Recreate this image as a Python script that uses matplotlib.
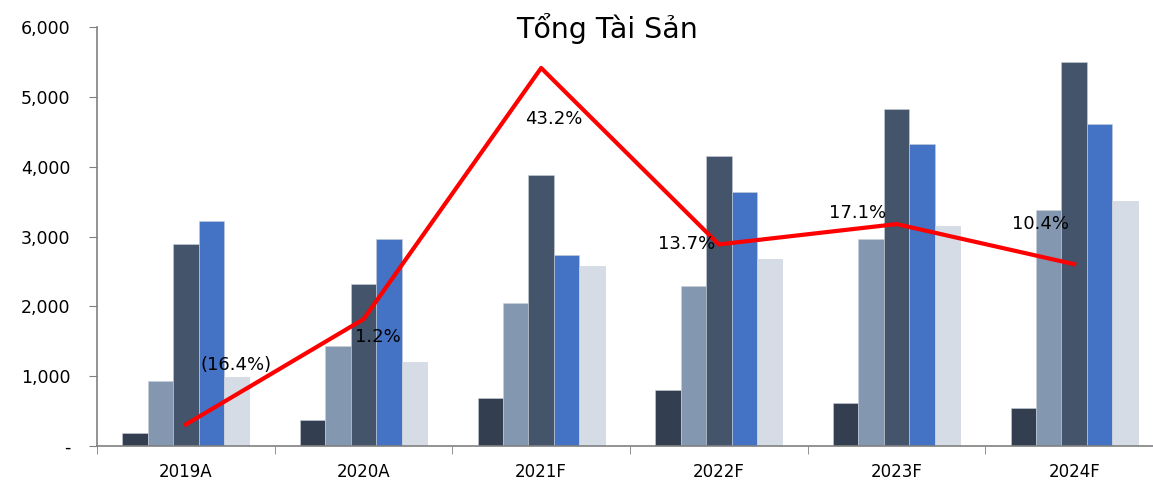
import matplotlib.pyplot as plt
import numpy as np
from matplotlib.ticker import FuncFormatter

years = ['2019A', '2020A', '2021F', '2022F', '2023F', '2024F']
s1 = [182, 372, 683, 802, 611, 540]
s2 = [936, 1437, 2044, 2297, 2961, 3386]
s3 = [2890, 2321, 3878, 4155, 4824, 5501]
s4 = [3224, 2961, 2741, 3634, 4331, 4609]
s5 = [984, 1208, 2579, 2684, 3152, 3506]
growth = [-16.4, 1.2, 43.2, 13.7, 17.1, 10.4]
growth_labels = ['(16.4%)', '1.2%', '43.2%', '13.7%', '17.1%', '10.4%']

colors = ['#333F50', '#8497B0', '#44546A', '#4472C4', '#D6DCE5']

fig = plt.figure(figsize=(11.53, 4.82), dpi=100)
ax = fig.add_axes([97 / 1153, 36 / 482, (1163 - 97) / 1153, (446 - 27.3) / 482])

x = np.arange(len(years))
width = 0.143
for i, s in enumerate([s1, s2, s3, s4, s5]):
    ax.bar(x + (i - 2) * width, s, width, color=colors[i], edgecolor='#c8cfd8', linewidth=0.4, zorder=2)

ax.set_xlim(-0.5, len(years) - 0.5)
ax.set_ylim(0, 6000)
ax.set_yticks(np.arange(0, 6001, 1000))
ax.yaxis.set_major_formatter(FuncFormatter(lambda v, p: '-' if v == 0 else f'{int(v):,}'))
ax.set_xticks(x)
ax.set_xticklabels(years)
ax.set_xticks(np.arange(-0.5, len(years)), minor=True)
ax.tick_params(axis='x', which='major', length=0, labelsize=12, pad=12)
ax.tick_params(axis='x', which='minor', length=6, color='#808080', direction='out')
ax.tick_params(axis='y', length=6, color='#808080', labelsize=12.5, pad=13)
for side in ['top', 'right']:
    ax.spines[side].set_visible(False)
for side in ['left', 'bottom']:
    ax.spines[side].set_color('#808080')
    ax.spines[side].set_linewidth(1.2)

ax2 = ax.twinx()
ax2.plot(x, growth, color='#FF0000', linewidth=3, zorder=3)
ax2.set_ylim(-20, 50)
ax2.axis('off')

# label offsets in points
offsets = [(36, 43), (10, -13), (9, -37), (-23, 0), (-28, 8), (-24, 29)]
for xi, g, lab, off in zip(x, growth, growth_labels, offsets):
    ax2.annotate(lab, (xi, g), xytext=off, textcoords='offset points',
                 ha='center', va='center', fontsize=13, color='black')

fig.text(607 / 1153, 1 - 29 / 482, 'Tổng Tài Sản', ha='center', va='center', fontsize=20.5)

fig.savefig('out.png', dpi=100)
